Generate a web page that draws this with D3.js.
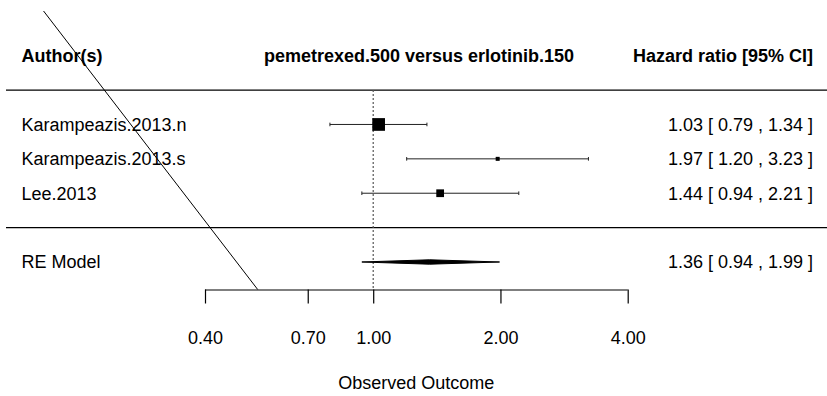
<!DOCTYPE html>
<html>
<head>
<meta charset="utf-8">
<script src="https://cdn.jsdelivr.net/npm/d3@7"></script>
<style>
  html, body { margin: 0; padding: 0; background: #fff; }
  svg { display: block; font-family: "Liberation Sans", Arial, sans-serif; }
</style>
</head>
<body>
<svg id="chart" width="827" height="396"></svg>
<script>
// ---- data ----
const studies = ["Karampeazis.2013.n", "Karampeazis.2013.s", "Lee.2013"];
const estimates = [1.03, 1.97, 1.44];
const ciLower = [0.79, 1.20, 0.94];
const ciUpper = [1.34, 3.23, 2.21];
const weights = [48, 20, 32];
const rows = [3, 2, 1];
const summaryLabel = "RE Model";
const summary = { est: 1.36, lo: 0.94, hi: 1.99, row: -1 };
const tickValues = [0.40, 0.70, 1.00, 2.00, 4.00];
const headerLeft = "Author(s)";
const headerMid = "pemetrexed.500 versus erlotinib.150";
const headerRight = "Hazard ratio [95% CI]";
const xLabel = "Observed Outcome";
const refLine = [{ hr: 0.166, row: 6.3 }, { hr: 0.533, row: -1.8 }];

// ---- layout ----
const svg = d3.select("#chart");
const W = 827;
const fs = 18;
const x = d3.scaleLog().domain([0.4, 4]).range([205, 627.7]);
const y = d3.scaleLinear().domain([6.3, -1.8]).range([11, 289.5]);
const size = d3.scaleLinear().domain(d3.extent(weights)).range([4, 12.7]);
const fmt = d3.format(".2f");

// horizontal separator lines
[4, 0].forEach(r => {
  svg.append("line")
    .attr("x1", 6).attr("x2", W).attr("y1", y(r)).attr("y2", y(r))
    .attr("stroke", "#000").attr("stroke-width", 1.2);
});

// reference dotted line at 1
svg.append("line")
  .attr("x1", x(1)).attr("x2", x(1)).attr("y1", y(4)).attr("y2", y(-1.8))
  .attr("stroke", "#555").attr("stroke-width", 1.2).attr("stroke-dasharray", "2,2");

// diagonal line
svg.append("line")
  .attr("x1", x(refLine[0].hr)).attr("y1", y(refLine[0].row))
  .attr("x2", x(refLine[1].hr)).attr("y2", y(refLine[1].row))
  .attr("stroke", "#000").attr("stroke-width", 1);

// headers
svg.append("text").attr("x", 21.5).attr("y", y(5)).attr("dy", "0.35em")
  .attr("font-size", fs).attr("font-weight", "bold").text(headerLeft);
svg.append("text").attr("x", 419).attr("y", y(5)).attr("dy", "0.35em")
  .attr("text-anchor", "middle").attr("font-size", fs).attr("font-weight", "bold").text(headerMid);
svg.append("text").attr("x", 813).attr("y", y(5)).attr("dy", "0.35em")
  .attr("text-anchor", "end").attr("font-size", fs).attr("font-weight", "bold").text(headerRight);

// studies
studies.forEach((s, i) => {
  const yy = y(rows[i]);
  svg.append("text").attr("x", 21.5).attr("y", yy).attr("dy", "0.35em")
    .attr("font-size", fs).text(s);
  svg.append("line")
    .attr("x1", x(ciLower[i])).attr("x2", x(ciUpper[i])).attr("y1", yy).attr("y2", yy)
    .attr("stroke", "#222").attr("stroke-width", 1);
  [ciLower[i], ciUpper[i]].forEach(v => {
    svg.append("line").attr("x1", x(v)).attr("x2", x(v))
      .attr("y1", yy - 1.8).attr("y2", yy + 1.8)
      .attr("stroke", "#222").attr("stroke-width", 1);
  });
  const sz = size(weights[i]);
  svg.append("rect")
    .attr("x", x(estimates[i]) - sz / 2).attr("y", yy - sz / 2)
    .attr("width", sz).attr("height", sz).attr("fill", "#000");
  svg.append("text").attr("x", 813).attr("y", yy).attr("dy", "0.35em")
    .attr("text-anchor", "end").attr("font-size", fs)
    .text(`${fmt(estimates[i])} [ ${fmt(ciLower[i])} , ${fmt(ciUpper[i])} ]`);
});

// summary
const sy = y(summary.row);
svg.append("text").attr("x", 21.5).attr("y", sy).attr("dy", "0.35em")
  .attr("font-size", fs).text(summaryLabel);
svg.append("polygon")
  .attr("points", [
    [x(summary.lo), sy], [x(summary.est), sy - 2.2],
    [x(summary.hi), sy], [x(summary.est), sy + 2.2]
  ].map(p => p.join(",")).join(" "))
  .attr("fill", "#000").attr("stroke", "#000").attr("stroke-width", 1);
svg.append("text").attr("x", 813).attr("y", sy).attr("dy", "0.35em")
  .attr("text-anchor", "end").attr("font-size", fs)
  .text(`${fmt(summary.est)} [ ${fmt(summary.lo)} , ${fmt(summary.hi)} ]`);

// axis
const axisG = svg.append("g").attr("transform", `translate(0,${y(-1.8)})`)
  .call(d3.axisBottom(x).tickValues(tickValues).tickFormat(fmt).tickSize(14).tickPadding(28));
axisG.select(".domain").attr("d", `M${x(0.4)},0.5H${x(4)}`).attr("stroke", "#000").attr("stroke-width", 1.2);
axisG.selectAll(".tick line").attr("stroke", "#000").attr("stroke-width", 1.2);
axisG.selectAll(".tick text").attr("font-size", fs).attr("font-family", "Liberation Sans, Arial, sans-serif").attr("fill", "#000");

svg.append("text").attr("x", (x(0.4) + x(4)) / 2).attr("y", 383).attr("dy", "0.35em")
  .attr("text-anchor", "middle").attr("font-size", fs).text(xLabel);
</script>
</body>
</html>
